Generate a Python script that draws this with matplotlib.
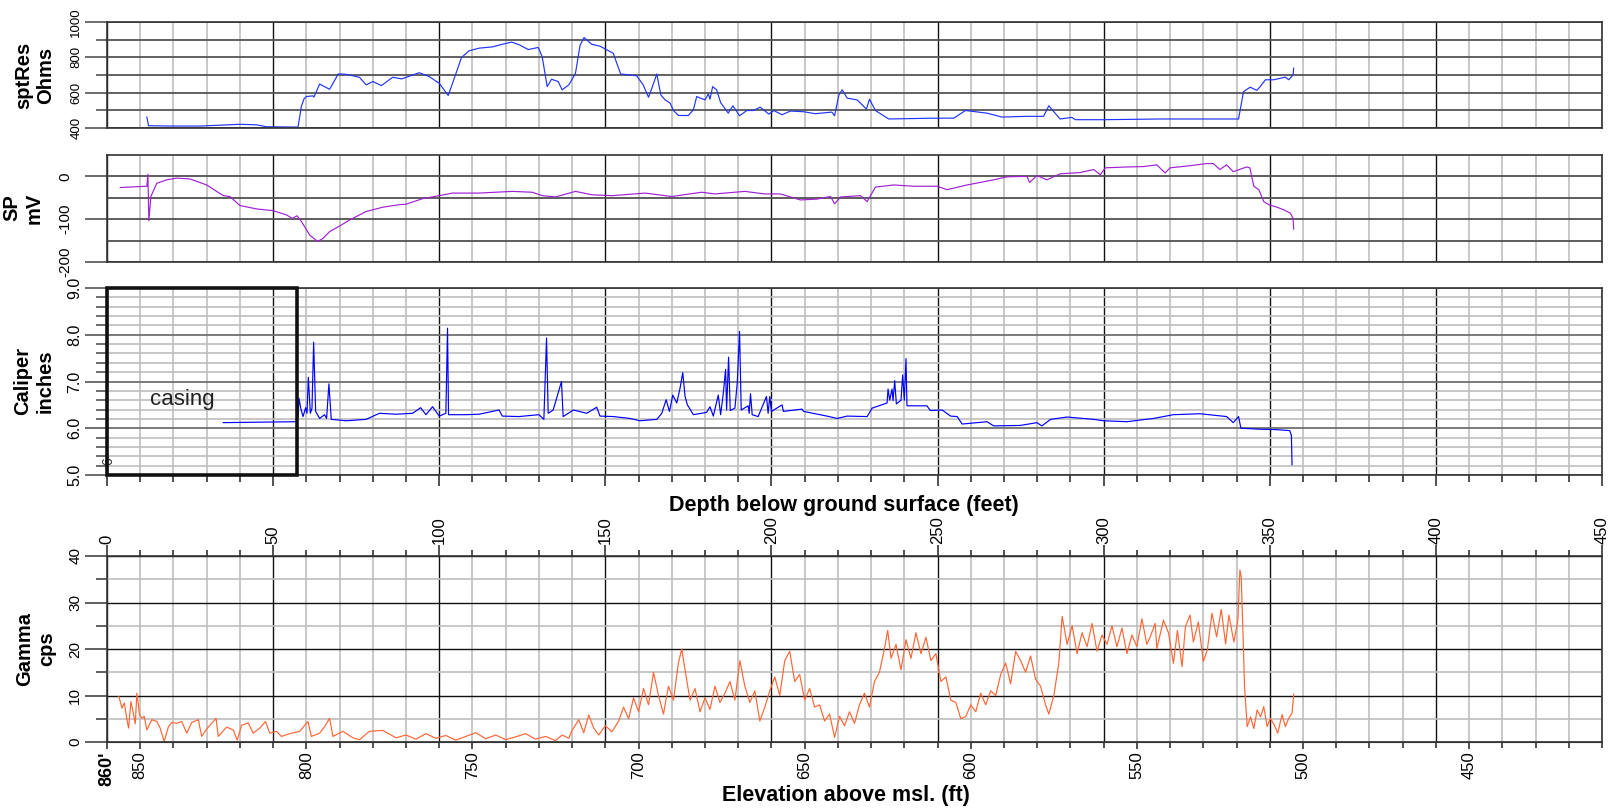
"""
Borehole geophysical log: resistivity, SP, caliper and natural gamma vs depth
"""

import numpy as np
import matplotlib.pyplot as plt
from matplotlib.patches import Rectangle
from matplotlib.ticker import FixedLocator

ground_elev = 860  # ft above msl at depth 0

res_depth = [12.0, 12.5, 20, 28, 40, 45, 48, 57.5, 58.5, 59.3, 60, 62, 62.3, 64, 67, 69.6, 72, 76,
             78, 80, 82.6, 86, 88.7, 94, 97, 100, 102.7, 104, 106.7, 109, 112, 116, 119, 121.8,
             124, 126.8, 129.8, 131, 132.5, 133.8, 135.8, 137, 139, 141, 142.4, 143.6, 145.9,
             148.4, 151, 152.4, 154.6, 159.4, 161.4, 163, 164, 165.5, 166.7, 168, 169.5, 170.5,
             172, 175, 176.5, 177.5, 180, 181, 181.5, 182.3, 183.5, 184.7, 187, 188.4, 190.4,
             192.6, 194.6, 196.6, 199.2, 200.7, 203.2, 205.7, 209.7, 213.2, 218.2, 219, 220.3,
             221.3, 222.8, 225.8, 228.6, 229.5, 231.3, 235.3, 246.8, 254.9, 258.4, 264.9, 269.4,
             276.9, 281.9, 283.5, 284.9, 286.9, 290.4, 291.5, 300, 317, 340.6, 342.1, 344.1,
             346.1, 347.1, 348.7, 351.2, 354.7, 355.7, 357, 357.2]
res_ohm = [462, 413, 411, 411, 421, 418, 407, 405, 522, 565, 578, 582, 575, 649, 619, 706, 704, 687,
           644, 663, 640, 687, 678, 713, 691, 653, 584, 653, 799, 837, 852, 859, 874, 886,
           872, 844, 856, 803, 634, 676, 663, 616, 644, 709, 869, 912, 874,
           863, 837, 822, 706, 696, 644, 574, 625, 706, 587, 559, 541, 499,
           471, 471, 503, 578, 559, 593, 563, 634, 616, 544, 484, 526, 469,
           499, 499, 518, 479, 499, 475, 496, 492, 481, 490, 469, 587,
           616, 569, 559, 507, 563, 499, 451, 455, 456, 499, 484, 462,
           466, 466, 526, 494, 451, 460, 447, 447, 451, 451, 606, 631,
           613, 634, 673, 673, 688, 673, 701, 739]

sp_depth = [4, 12, 12.3, 12.6, 13.2, 15, 18, 21, 25, 30, 35, 37, 40, 45, 50, 54, 55.8, 57.2, 58.5,
            61, 63.4, 65, 67, 70, 73, 78, 83, 88, 90, 95, 100, 104, 112, 122, 128, 131, 135, 141,
            146, 152, 162, 170, 179, 183, 192, 198, 202.7, 208.7, 213.7, 217.8, 219, 220.8,
            226.8, 228.8, 231.3, 236.8, 242.8, 249.8, 252.9, 258.9, 266.9, 270.9, 276.9, 277.7,
            279.9, 282.9, 286.9, 292.9, 297, 299, 300.5, 307, 312, 316, 318.5, 320, 326, 331,
            333, 335, 337, 339, 343, 344, 345.2, 346.7, 348.2, 349.7, 352.2, 354.2, 356.2, 357,
            357.2]
sp_mv = [-26, -23, 5, -104, -47, -16, -8, -4, -6, -20, -45, -47, -68, -76, -80, -90, -98, -92, -105,
         -137, -152, -145, -129, -116, -102, -82, -72, -66, -65, -52, -45, -39, -39, -35, -37, -45, -48, -35,
         -43, -45, -39, -47, -37, -41, -35, -41, -41, -55, -53, -47, -64, -48,
         -45, -59, -25, -20, -23, -23, -31, -20, -8, -1, 0, -14,
         2, -8, 6, 9, 16, 4, 20, 22, 23, 27, 8, 20, 25, 30,
         30, 16, 27, 11, 22, 20, -23, -31, -59, -66, -72, -78, -86, -98,
         -123]

cal_depth = [35, 57, 57.5, 57.8, 58.3, 59, 59.8, 60.2, 60.6, 61.2, 61.7, 62.2, 62.8, 64, 65.5, 66.1,
             66.8, 67.5, 72, 78, 82, 87, 92, 94.4, 96, 98, 100, 102, 102.5, 102.8, 108, 112, 118,
             119, 124, 130, 131.5, 132.3, 132.8, 134.3, 136.8, 137.3, 140.4, 144.4, 147.4, 148.4,
             152.4, 157.4, 160.4, 165.5, 167, 168.3, 169.3, 170.3, 171.5, 172.5, 173.3, 174,
             174.7, 176.5, 180.5, 181.5, 182.5, 184, 184.7, 185.5, 186.2, 186.5, 187.1, 187.6,
             189, 189.7, 190.4, 190.9, 193, 193.3, 193.7, 194.2, 196, 198.5, 199.0, 199.5, 200,
             203.2, 203.6, 209.2, 209.7, 216.7, 219.8, 222.8, 228.8, 230.3, 234.8, 235.1, 235.6,
             236.3, 236.6, 237.1, 237.6, 239.0, 239.5, 240.0, 240.5, 240.8, 246.8, 247.8, 251.4,
             253.9, 255.9, 257.4, 264.9, 266.9, 274.9, 279.9, 281.4, 284, 289, 297, 300, 307,
             315, 321, 329, 337, 339, 340.6, 341.3, 347, 352, 356, 356.5, 356.7]
cal_in = [6.12, 6.14, 6.25, 6.64, 6.43, 6.25, 6.44, 6.32, 7.09, 6.32, 6.43, 7.84, 6.36, 6.21, 6.29, 6.21,
          6.95, 6.19, 6.16, 6.19, 6.32, 6.30, 6.32, 6.44, 6.29, 6.46, 6.26, 6.32, 8.14, 6.29, 6.29, 6.30, 6.39,
          6.26, 6.25, 6.29, 6.19, 7.93, 6.32, 6.39, 7.00, 6.25, 6.39, 6.32, 6.45, 6.26,
          6.25, 6.21, 6.16, 6.19, 6.32, 6.61, 6.36, 6.71, 6.54, 6.86, 7.19, 6.68,
          6.50, 6.29, 6.34, 6.46, 6.26, 6.71, 6.29, 6.74, 7.26, 6.39, 7.52, 6.38,
          6.43, 6.96, 8.07, 6.39, 6.48, 6.32, 6.74, 6.29, 6.25, 6.68, 6.32, 6.68, 6.36,
          6.50, 6.36, 6.41, 6.36, 6.26, 6.21, 6.26, 6.25, 6.43, 6.54, 6.84, 6.60,
          6.84, 6.59, 7.02, 6.52, 6.60, 7.14, 6.60, 7.49, 6.48, 6.48, 6.38, 6.39,
          6.26, 6.25, 6.09, 6.14, 6.05, 6.06, 6.12, 6.05, 6.19, 6.24, 6.19, 6.16, 6.14,
          6.21, 6.29, 6.31, 6.25, 6.12, 6.25, 6.00, 5.98, 5.97, 5.95, 5.85, 5.22]

gam_depth = [3.5, 4, 4.5, 5.2, 6, 6.5, 7.2, 8, 8.5, 9, 9.8, 10.5, 11.2, 12, 13.5, 15, 16, 17.2, 18.5,
             19.5, 21, 22.5, 24, 25.5, 27.5, 28.5, 30, 32.8, 33.5, 36, 38, 39.2, 40.5, 42.5, 44, 46,
             47.7, 49, 51, 52.5, 55, 58, 60.5, 61.5, 64, 65.5, 67, 68, 71, 74, 76, 79, 83, 87,
             90, 93, 96, 99, 102, 105, 108, 111, 114, 117, 120, 123, 126, 129, 132, 135, 137, 139,
             140, 142, 143.5, 145, 146.5, 148, 150, 152, 154, 155.5, 157, 158.5, 160, 161.5, 163,
             164.5, 166, 167.5, 169, 170.5, 172, 173, 174, 175.5, 177, 178.5, 180, 181.5, 183,
             184.5, 186, 187.5, 189, 190.5, 192, 193.5, 195, 196.5, 198, 199.5, 201, 202.5, 204,
             205.5, 207, 208.5, 210, 211.5, 213, 214.5, 216, 217.5, 219, 220.5, 222, 223.5, 225,
             226.5, 228, 229.5, 231, 232.5, 234, 235, 236, 237.5, 239, 240.5, 242, 243.5, 245,
             246.5, 248, 249.5, 251, 252.5, 254, 255.5, 257, 258.5, 260, 261.5, 263, 264.5, 266,
             267.5, 269, 270.5, 272, 273.5, 275, 276.5, 278, 279.5, 281, 282.5, 283.5, 285,
             286.5, 287.5, 289, 290.5, 292, 293.5, 295, 296.5, 298, 299.5, 301, 302.5, 304,
             305.5, 307, 308.5, 310, 311.5, 313, 314, 315.5, 316, 318, 319.5, 321, 322.2, 323.6,
             324.6, 326, 327, 328.5, 330, 331.2, 332.6, 334, 335.4, 336.7, 337.7, 339.2, 340.4,
             341, 341.4, 342, 342.4, 343.2, 344.2, 345.2, 346.2, 347.2, 348.2, 349.2, 350.2,
             351.4, 352.4, 353.7, 354.7, 355.7, 356.7, 357.2]
gam_cps = [9.8, 8.7, 7.3, 8.4, 4.8, 3.0, 8.7, 5.9, 3.9, 10.5, 5.9, 5.1, 5.5, 2.6, 4.8, 4.4, 3.0, 0.1, 3.3,
           4.2, 4.0, 4.4, 1.9, 4.2, 4.8, 1.2, 2.8, 5.1, 1.2, 3.2, 2.6, 0.4, 3.6, 4.1, 1.9, 3.0,
           4.4, 1.9, 2.3, 1.2, 1.8, 2.3, 4.4, 1.2, 1.9, 3.3, 5.1, 1.2, 2.3, 0.9, 0.5, 2.3, 2.5, 0.9,
           1.5, 0.6, 1.8, 0.8, 1.4, 0.4, 1.2, 2.0, 0.7, 1.5, 0.5, 1.1, 1.8, 0.6, 1.2, 0.3, 1.5, 0.8,
           2.5, 4.8, 2.0, 5.8, 3.0, 1.5, 3.5, 2.2, 4.5, 7.5, 5.0, 9.5, 6.5, 11.5, 8.0,
           15.0, 10.0, 6.0, 12.0, 9.0, 17.0, 20.0, 15.5, 9.0, 11.5, 6.5, 9.5, 7.0, 12.0,
           8.5, 10.5, 13.0, 9.0, 17.5, 12.0, 8.5, 11.0, 4.5, 7.5, 11.0, 14.0, 10.0, 17.5,
           19.5, 13.0, 14.5, 9.0, 11.5, 7.5, 8.0, 4.5, 6.0, 1.0, 5.5, 3.5, 6.5, 4.0,
           8.0, 10.5, 7.5, 13.0, 15.0, 20.0, 24.0, 18.0, 21.0, 15.5, 22.0, 18.0, 23.5, 19.0,
           22.5, 17.5, 19.0, 13.0, 14.0, 9.0, 8.5, 5.0, 5.5, 8.0, 6.5, 10.5, 8.0, 11.0,
           10.0, 14.5, 17.0, 12.5, 19.5, 17.5, 15.0, 18.5, 13.5, 12.0, 8.0, 6.0, 10.0,
           17.0, 27.0, 21.0, 25.0, 19.0, 23.5, 20.5, 25.5, 19.5, 23.0, 21.0, 25.0, 20.5,
           24.5, 19.0, 23.0, 20.5, 26.5, 21.0, 22.6, 25.5, 20.1, 26.2, 23.5, 16.9, 24.0, 16.2,
           24.8, 27.3, 21.5, 25.8, 17.3, 19.8, 27.7, 22.6, 28.5, 21.1, 27.3, 21.5, 26.2,
           37.0, 35.5, 21.9, 11.9, 3.3, 5.4, 2.9, 6.9, 5.4, 7.6, 3.3, 5.1,
           3.6, 1.9, 5.9, 3.3, 5.1, 6.2, 10.3]

depth_major = np.arange(0, 451, 50)
depth_minor = np.arange(0, 451, 10)
elev_major = [860, 850, 800, 750, 700, 650, 600, 550, 500, 450]
elev_labels = ["860'", "850", "800", "750", "700", "650", "600", "550", "500", "450"]

# ---------------- figure ----------------
plt.rcParams["font.family"] = ["Liberation Sans", "DejaVu Sans"]
plt.rcParams["axes.unicode_minus"] = False

W, H = 1619, 809
fig = plt.figure(figsize=(W / 100, H / 100), dpi=100)


def px_axes(top, bottom, left=107, right=1602):
    return fig.add_axes([left / W, 1 - bottom / H, (right - left) / W, (bottom - top) / H])


ax1 = px_axes(22, 128)
ax2 = px_axes(155, 262)
ax3 = px_axes(288, 475)
ax4 = px_axes(556, 742)

for ax in (ax1, ax2, ax3, ax4):
    ax.set_xlim(0, 450)
    ax.xaxis.set_major_locator(FixedLocator(depth_major))
    ax.xaxis.set_minor_locator(FixedLocator(depth_minor))
    ax.grid(which="minor", axis="x", color="#c4c4c4", lw=1.3)
    ax.grid(which="major", axis="x", color="#111111", lw=1.0)
    ax.set_axisbelow(True)
    for s in ax.spines.values():
        s.set_color("#333333")
        s.set_linewidth(1.2)
    ax.tick_params(axis="x", which="both", bottom=False, labelbottom=False)
    ax.tick_params(axis="y", which="major", length=15.8, width=1.2, labelrotation=90)
    ax.tick_params(axis="y", which="minor", length=7.9, width=1.2)

# resistivity
ax1.plot(res_depth, res_ohm, color="#1f34ff", lw=0.85)
ax1.set_ylim(400, 1000)
ax1.set_yticks([400, 600, 800, 1000])
ax1.set_yticks([500, 700, 900], minor=True)
ax1.grid(which="both", axis="y", color="#555555", lw=1.3)
ax1.tick_params(axis="y", which="both", color="#555555", labelsize=9.5, pad=2)

# spontaneous potential
ax2.plot(sp_depth, sp_mv, color="#a020d4", lw=0.85)
ax2.set_ylim(-200, 50)
ax2.set_yticks([-200, -100, 0])
ax2.set_yticks([-150, -50], minor=True)
ax2.grid(which="both", axis="y", color="#505050", lw=1.3)
ax2.tick_params(axis="y", which="major", color="#505050", labelsize=11, pad=9)
ax2.tick_params(axis="y", which="minor", length=0)

# caliper
ax3.plot(cal_depth, cal_in, color="#0000ff", lw=0.85)
ax3.set_ylim(5.0, 9.0)
ax3.set_yticks([5, 6, 7, 8, 9], labels=["5.0", "6.0", "7.0", "8.0", "9.0"])
ax3.set_yticks(np.arange(5.2, 9.0, 0.2), minor=True)
ax3.grid(which="minor", axis="y", color="#bdbdbd", lw=1.2)
ax3.grid(which="major", axis="y", color="#707070", lw=1.3)
ax3.tick_params(axis="y", which="both", color="#555555", labelsize=11.5, pad=2)
ax3.tick_params(axis="x", which="major", bottom=True, length=8, width=1.2, color="#333333")
ax3.tick_params(axis="x", which="minor", bottom=True, length=5, width=1.2, color="#333333")
ax3.add_patch(Rectangle((0, 5.0), 57.2, 4.0, fill=False, lw=2.6, ec="#111111",
                        clip_on=False, zorder=5))
ax3.text(22.6, 6.50, "casing", fontsize=16, ha="center", va="baseline", color="#222222")
ax3.text(0.4, 5.3, "6", fontsize=10, rotation=90, ha="center", va="center", color="#333333")

# gamma
ax4.plot(gam_depth, gam_cps, color="#ff6633", lw=0.85)
ax4.set_ylim(0, 40)
ax4.set_yticks([0, 10, 20, 30, 40])
ax4.set_yticks([5, 15, 25, 35], minor=True)
ax4.grid(which="minor", axis="y", color="#bdbdbd", lw=1.2)
ax4.grid(which="major", axis="y", color="#111111", lw=1.0)
ax4.tick_params(axis="y", which="both", color="#444444", labelsize=11, pad=2)
ax4.tick_params(axis="x", which="both", top=True, labeltop=True, bottom=False,
                labelbottom=False, labelrotation=90, labelsize=12, width=1.2,
                color="#333333", pad=1)
ax4.tick_params(axis="x", which="major", length=8)
ax4.tick_params(axis="x", which="minor", length=4.3)

sec = ax4.secondary_xaxis("bottom", functions=(lambda d: ground_elev - d,
                                                 lambda e: ground_elev - e))
sec.set_xticks(elev_major, labels=elev_labels)
sec.xaxis.set_minor_locator(FixedLocator(np.arange(860, 409, -10)))
sec.tick_params(axis="x", which="major", length=5, width=1.2, labelrotation=90,
                labelsize=12, color="#333333", pad=2)
sec.tick_params(axis="x", which="minor", length=4, width=1.2, color="#333333")
sec.spines["bottom"].set_color("#333333")
for lab in sec.get_xticklabels():
    if lab.get_text().endswith("'"):
        lab.set_fontweight("bold")
        lab.set_fontsize(13)

for ax in (ax1, ax2, ax3, ax4):
    plt.setp(ax.get_yticklabels(), va="center")

# axis titles
ylab = dict(rotation=90, ha="center", va="center", fontsize=14.5, fontweight="bold",
            linespacing=1.2, multialignment="center")
fig.text(35 / W, 1 - 75 / H, "sptRes\nOhms", **ylab)
fig.text(23 / W, 1 - 208 / H, "SP\nmV", **ylab)
fig.text(34 / W, 1 - 381 / H, "Caliper\ninches", **ylab)
fig.text(36 / W, 1 - 649 / H, "Gamma\ncps", **ylab)

fig.text(844 / W, 1 - 506 / H, "Depth below ground surface (feet)", ha="center", va="center",
         fontsize=15.5, fontweight="bold")
fig.text(846 / W, 1 - 795 / H, "Elevation above msl. (ft)", ha="center", va="center",
         fontsize=15.5, fontweight="bold")

fig.savefig("out.png", dpi=100)
